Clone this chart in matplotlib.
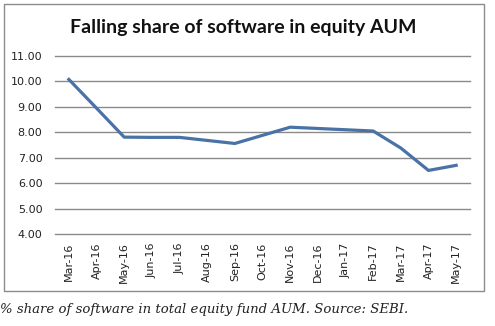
import matplotlib
matplotlib.use("Agg")
import matplotlib.pyplot as plt
from matplotlib.patches import Rectangle

months = ["Mar-16", "Apr-16", "May-16", "Jun-16", "Jul-16", "Aug-16", "Sep-16",
          "Oct-16", "Nov-16", "Dec-16", "Jan-17", "Feb-17", "Mar-17", "Apr-17", "May-17"]
software_share = [10.08, 8.95, 7.81, 7.80, 7.80, 7.68, 7.56,
                  7.88, 8.20, 8.15, 8.10, 8.05, 7.38, 6.50, 6.70]
y_ticks = [4, 5, 6, 7, 8, 9, 10, 11]

title = "Falling share of software in equity AUM"
caption = "% share of software in total equity fund AUM. Source: SEBI."

W, H = 495, 326
fig = plt.figure(figsize=(W / 100, H / 100), dpi=100)
fig.patch.set_facecolor("white")

# outer chart frame
fig.patches.append(Rectangle((4 / W, 1 - 291 / H), 480 / W, 287 / H,
                             transform=fig.transFigure, fill=False,
                             edgecolor="#8c8c8c", linewidth=1.0))

ax = fig.add_axes([55 / W, 1 - 234 / H, 415 / W, 178 / H])
x = list(range(len(months)))
ax.plot(x, software_share, color="#4A72A6", linewidth=2.3, solid_joinstyle="round", zorder=3)

ax.set_xlim(-0.5, len(months) - 0.5)
ax.set_ylim(4, 11)
ax.set_yticks(y_ticks)
ax.set_yticklabels([f"{v:.2f}" for v in y_ticks], fontsize=8, color="#222222")
ax.set_xticks(x)
ax.set_xticklabels(months, rotation=90, fontsize=8, color="#222222")
ax.tick_params(axis="both", length=0, pad=6)
ax.tick_params(axis="y", pad=9)
for v in y_ticks:
    ax.axhline(v, color="#8a8a8a", linewidth=1.0, clip_on=False, zorder=1)
for s in ax.spines.values():
    s.set_visible(False)

fig.text(243 / W, 1 - 28 / H, title, ha="center", va="center",
         fontsize=14, fontweight="bold", family="Lato", color="#111111")
fig.text(0, 1 - 309 / H, caption, ha="left", va="center",
         fontsize=9.5, style="italic", family="DejaVu Serif", color="#222222")

fig.savefig("out.png", dpi=100, facecolor="white")
